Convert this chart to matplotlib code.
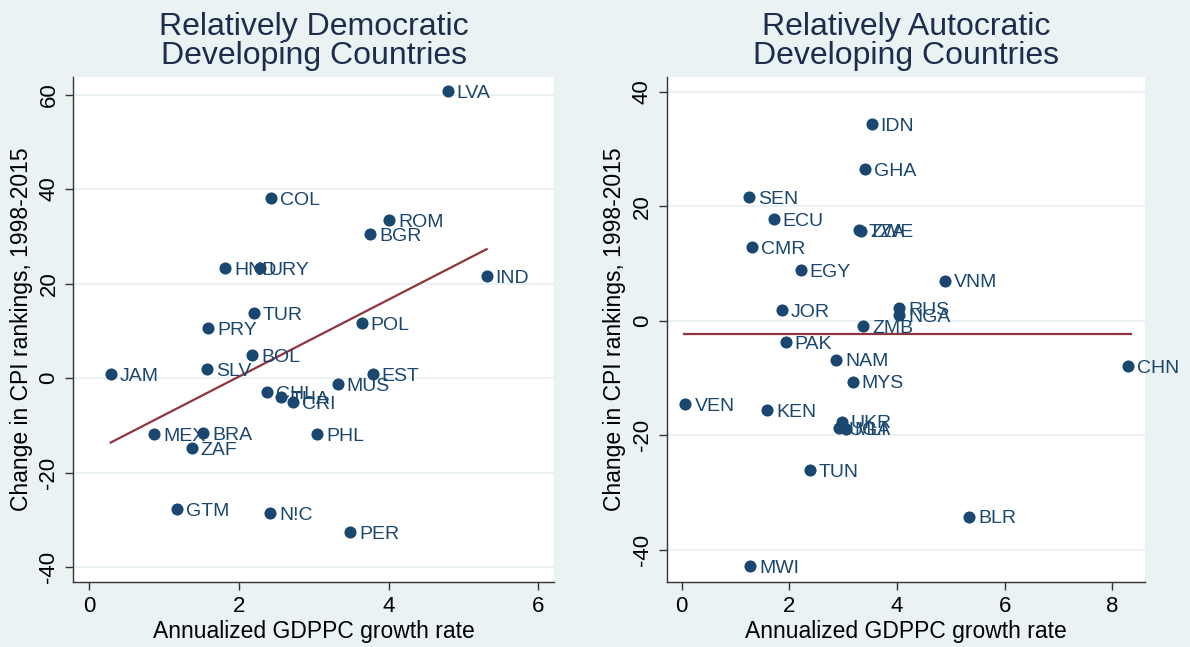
import matplotlib
matplotlib.use("Agg")
import matplotlib.pyplot as plt

plt.rcParams['font.family'] = ['Liberation Sans', 'DejaVu Sans']

# Relatively democratic developing countries
dem_codes = ["LVA", "COL", "ROM", "BGR", "HND", "URY", "IND", "TUR", "PRY", "POL",
             "BOL", "SLV", "JAM", "EST", "MUS", "CHL", "THA", "CRI", "MEX", "BRA",
             "PHL", "ZAF", "GTM", "N!C", "PER"]
dem_growth = [4.79, 2.43, 4.01, 3.75, 1.82, 2.28, 5.31, 2.20, 1.59, 3.64,
              2.18, 1.58, 0.29, 3.79, 3.32, 2.38, 2.57, 2.72, 0.87, 1.52,
              3.05, 1.37, 1.18, 2.42, 3.49]
dem_change = [60.7, 38.1, 33.4, 30.4, 23.3, 23.3, 21.6, 13.7, 10.6, 11.6,
              4.9, 1.9, 0.9, 0.9, -1.3, -3.0, -4.0, -5.1, -11.8, -11.6,
              -11.8, -14.8, -27.7, -28.5, -32.6]
dem_fit_x = [0.29, 5.31]
dem_fit_y = [-13.6, 27.3]

# Relatively autocratic developing countries
aut_codes = ["IDN", "GHA", "SEN", "ECU", "TZA", "ZWE", "CMR", "EGY", "VNM", "JOR",
             "RUS", "NGA", "ZMB", "PAK", "NAM", "CHN", "MYS", "VEN", "KEN", "UKR",
             "UGA", "MLI", "TUN", "BLR", "MWI"]
aut_growth = [3.53, 3.40, 1.25, 1.71, 3.30, 3.34, 1.30, 2.21, 4.89, 1.86,
              4.04, 4.04, 3.37, 1.93, 2.87, 8.30, 3.18, 0.07, 1.59, 2.97,
              2.93, 3.05, 2.38, 5.34, 1.27]
aut_change = [34.4, 26.5, 21.6, 17.8, 15.9, 15.8, 12.9, 8.9, 7.0, 1.9,
              2.2, 1.0, -0.9, -3.7, -6.8, -7.9, -10.6, -14.5, -15.6, -17.6,
              -18.7, -18.8, -26.1, -34.2, -42.9]
aut_fit_x = [0.04, 8.35]
aut_fit_y = [-2.2, -2.2]

bg = '#eaf2f3'
navy = '#1a476f'
maroon = '#90353b'
title_col = '#1e2d4e'

fig = plt.figure(figsize=(11.9, 6.47), dpi=100, facecolor=bg)
ax1 = fig.add_axes([0.0616, 0.0997, 0.404, 0.782])
ax2 = fig.add_axes([0.5602, 0.0997, 0.402, 0.782])


def panel(ax, title, gx, gy, codes, fx, fy, xlim, ylim, xt, yt):
    ax.set_facecolor('white')
    for y in yt:
        ax.axhline(y, color=bg, lw=1.5, zorder=0)
    ax.plot(fx, fy, color=maroon, lw=1.6, zorder=2)
    ax.scatter(gx, gy, s=76, color=navy, zorder=3, linewidths=0)
    for x, y, c in zip(gx, gy, codes):
        ax.annotate(c, (x, y), xytext=(6.5, -1.5), textcoords='offset points',
                    va='center', ha='left', fontsize=14, color=navy, zorder=4)
    ax.set_xlim(*xlim)
    ax.set_ylim(*ylim)
    ax.set_xticks(xt)
    ax.set_yticks(yt)
    ax.set_yticklabels([str(v) for v in yt], rotation=90, va='center')
    ax.tick_params(labelsize=16, length=6, width=1, color='#333333', pad=4)
    for s in ['top', 'right']:
        ax.spines[s].set_visible(False)
    for s in ['left', 'bottom']:
        ax.spines[s].set_color('#333333')
        ax.spines[s].set_linewidth(1)
    ax.set_xlabel('Annualized GDPPC growth rate', fontsize=16.5, labelpad=2)
    ax.set_ylabel('Change in CPI rankings, 1998-2015', fontsize=16.5, labelpad=4)
    ax.set_title(title, fontsize=23, color=title_col, linespacing=0.95, pad=9)


panel(ax1, 'Relatively Democratic\nDeveloping Countries', dem_growth, dem_change,
      dem_codes, dem_fit_x, dem_fit_y, (-0.21, 6.21), (-43.2, 63.8),
      [0, 2, 4, 6], [-40, -20, 0, 20, 40, 60])
panel(ax2, 'Relatively Autocratic\nDeveloping Countries', aut_growth, aut_change,
      aut_codes, aut_fit_x, aut_fit_y, (-0.28, 8.61), (-45.7, 42.7),
      [0, 2, 4, 6, 8], [-40, -20, 0, 20, 40])

fig.savefig('out.png', dpi=100, facecolor=bg)
